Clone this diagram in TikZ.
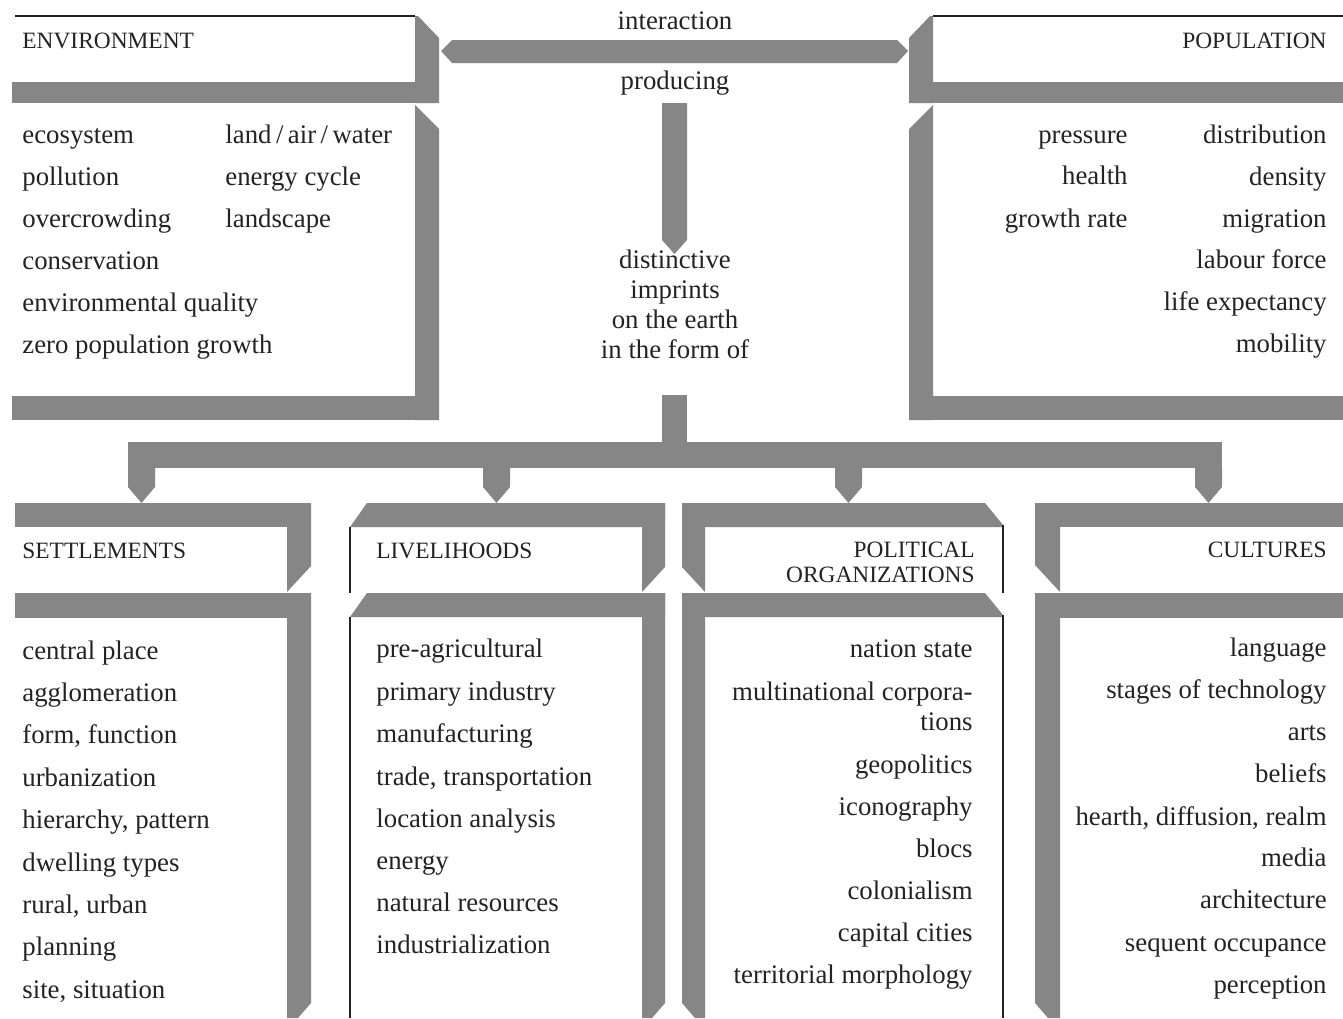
\documentclass[tikz,border=0pt]{standalone}
\usepackage{fontspec}
\setmainfont{Liberation Serif}
\definecolor{ribbongray}{RGB}{134,134,134}
\definecolor{ink}{RGB}{35,35,35}
\newcommand{\itemfont}{\fontsize{13.4}{16}\selectfont}
\newcommand{\headfont}{\fontsize{11.7}{14}\selectfont}
\begin{document}
\begin{tikzpicture}[x=0.5pt,y=-0.5pt,
  ribbon/.style={fill=ribbongray,draw=none},
  rule/.style={draw=ink,line width=0.6pt},
  item/.style={font=\itemfont,text=ink,inner sep=0pt},
  head/.style={font=\headfont,text=ink,inner sep=0pt},
  itemL/.style={item,anchor=base west},
  itemR/.style={item,anchor=base east},
  itemC/.style={item,anchor=base}]
\useasboundingbox[fill=white] (0,0) rectangle (1343,1018);

% ---------- ENVIRONMENT frame ----------
\draw[rule] (15,16) -- (415,16);
\fill[ribbon] (415,16) -- (418,16) -- (439,38) -- (439,103) -- (415,103) -- cycle;
\fill[ribbon] (12,82) rectangle (439,103);
\fill[ribbon] (415,105) -- (439,129) -- (439,420) -- (415,420) -- cycle;
\fill[ribbon] (12,396) rectangle (439,420);

% ---------- POPULATION frame ----------
\draw[rule] (933,16) -- (1343,16);
\fill[ribbon] (933,16) -- (930,16) -- (909,38) -- (909,103) -- (933,103) -- cycle;
\fill[ribbon] (909,82) rectangle (1343,103);
\fill[ribbon] (933,105) -- (909,129) -- (909,420) -- (933,420) -- cycle;
\fill[ribbon] (909,396) rectangle (1343,420);

% ---------- interaction band and central arrow ----------
\fill[ribbon] (441,51) -- (452,40) -- (897,40) -- (908,51) -- (897,63) -- (452,63) -- cycle;
\fill[ribbon] (662,103) -- (687,103) -- (687,240) -- (674.5,254) -- (662,240) -- cycle;

% ---------- distribution bar with four drops ----------
\fill[ribbon] (662,395) rectangle (687,468);
\fill[ribbon] (128,442) rectangle (1222,468);
\foreach \cx in {141.5,496.5,848.5,1208.5}
  \fill[ribbon] (\cx-13.5,467) -- (\cx+13.5,467) -- (\cx+13.5,487) -- (\cx,503) -- (\cx-13.5,487) -- cycle;

% ---------- SETTLEMENTS frame ----------
\fill[ribbon] (15,503) rectangle (311,527);
\fill[ribbon] (287,503) -- (311,503) -- (311,566) -- (287,592) -- cycle;
\fill[ribbon] (15,593) rectangle (311,618);
\fill[ribbon] (287,593) -- (311,593) -- (311,1003) -- (298,1018) -- (287,1018) -- cycle;

% ---------- LIVELIHOODS frame ----------
\fill[ribbon] (350,527) -- (367,503) -- (665,503) -- (665,527) -- cycle;
\fill[ribbon] (642,503) -- (665,503) -- (665,567) -- (642,592) -- cycle;
\fill[ribbon] (350,617) -- (367,593) -- (665,593) -- (665,617) -- cycle;
\fill[ribbon] (642,593) -- (665,593) -- (665,1003) -- (652,1018) -- (642,1018) -- cycle;
\draw[rule] (350,527) -- (350,593);
\draw[rule] (350,617) -- (350,1018);

% ---------- POLITICAL ORGANIZATIONS frame ----------
\fill[ribbon] (682,503) -- (985,503) -- (1003,525) -- (1003,527) -- (682,527) -- cycle;
\fill[ribbon] (682,503) -- (705,503) -- (705,592) -- (682,567) -- cycle;
\fill[ribbon] (682,593) -- (985,593) -- (1003,615) -- (1003,617) -- (682,617) -- cycle;
\fill[ribbon] (682,593) -- (705,593) -- (705,1018) -- (695,1018) -- (682,1003) -- cycle;
\draw[rule] (1003,525) -- (1003,593);
\draw[rule] (1003,615) -- (1003,1018);

% ---------- CULTURES frame ----------
\fill[ribbon] (1035,503) rectangle (1343,527);
\fill[ribbon] (1035,503) -- (1060,503) -- (1060,592) -- (1035,565) -- cycle;
\fill[ribbon] (1035,593) rectangle (1343,618);
\fill[ribbon] (1035,593) -- (1060,593) -- (1060,1018) -- (1048,1018) -- (1035,1003) -- cycle;

% ---------- central texts ----------
\node[itemC] (interaction) at (675,29) {interaction};
\node[itemC] (producing) at (675,89) {producing};
\node[itemC] (imp1) at (675,268) {distinctive};
\node[itemC] (imp2) at (675,298) {imprints};
\node[itemC] (imp3) at (675,328) {on the earth};
\node[itemC] (imp4) at (675,358) {in the form of};

% ---------- ENVIRONMENT ----------
\node[head,anchor=base west] (envhead) at (22,48) {ENVIRONMENT};
\foreach \y/\t [count=\i] in {143/ecosystem,185/pollution,227/overcrowding,269/conservation,311/environmental quality,353/zero population growth}
  \node[itemL] (envA\i) at (22,\y) {\t};
\foreach \y/\t [count=\i] in {143/{land\,/\,air\,/\,water},185/energy cycle,227/landscape}
  \node[itemL] (envB\i) at (225,\y) {\t};

% ---------- POPULATION ----------
\node[head,anchor=base east] (pophead) at (1327,48) {POPULATION};
\foreach \y/\t [count=\i] in {143/pressure,184/health,227/growth rate}
  \node[itemR] (popA\i) at (1128,\y) {\t};
\foreach \y/\t [count=\i] in {143/distribution,185/density,227/migration,268/labour force,310/life expectancy,352/mobility}
  \node[itemR] (popB\i) at (1327,\y) {\t};

% ---------- SETTLEMENTS ----------
\node[head,anchor=base west] (sethead) at (22,558) {SETTLEMENTS};
\foreach \y/\t [count=\i] in {659/central place,701/agglomeration,743/{form, function},786/urbanization,828/{hierarchy, pattern},871/dwelling types,913/{rural, urban},955/planning,998/{site, situation}}
  \node[itemL] (set\i) at (22,\y) {\t};

% ---------- LIVELIHOODS ----------
\node[head,anchor=base west] (livhead) at (376,558) {LIVELIHOODS};
\foreach \y/\t [count=\i] in {657/pre-agricultural,700/primary industry,742/manufacturing,785/{trade, transportation},827/location analysis,869/energy,911/natural resources,953/industrialization}
  \node[itemL] (liv\i) at (376,\y) {\t};

% ---------- POLITICAL ORGANIZATIONS ----------
\node[head,anchor=base east] (polhead1) at (975,557) {POLITICAL};
\node[head,anchor=base east] (polhead2) at (975,582) {ORGANIZATIONS};
\foreach \y/\t [count=\i] in {657/nation state,700/multinational corpora-,730/tions,773/geopolitics,815/iconography,857/blocs,899/colonialism,941/capital cities,983/territorial morphology}
  \node[itemR] (pol\i) at (973,\y) {\t};

% ---------- CULTURES ----------
\node[head,anchor=base east] (culhead) at (1327,557) {CULTURES};
\foreach \y/\t [count=\i] in {656/language,698/stages of technology,740/arts,782/beliefs,825/{hearth, diffusion, realm},866/media,908/architecture,951/sequent occupance,993/perception}
  \node[itemR] (cul\i) at (1327,\y) {\t};
\end{tikzpicture}
\end{document}
